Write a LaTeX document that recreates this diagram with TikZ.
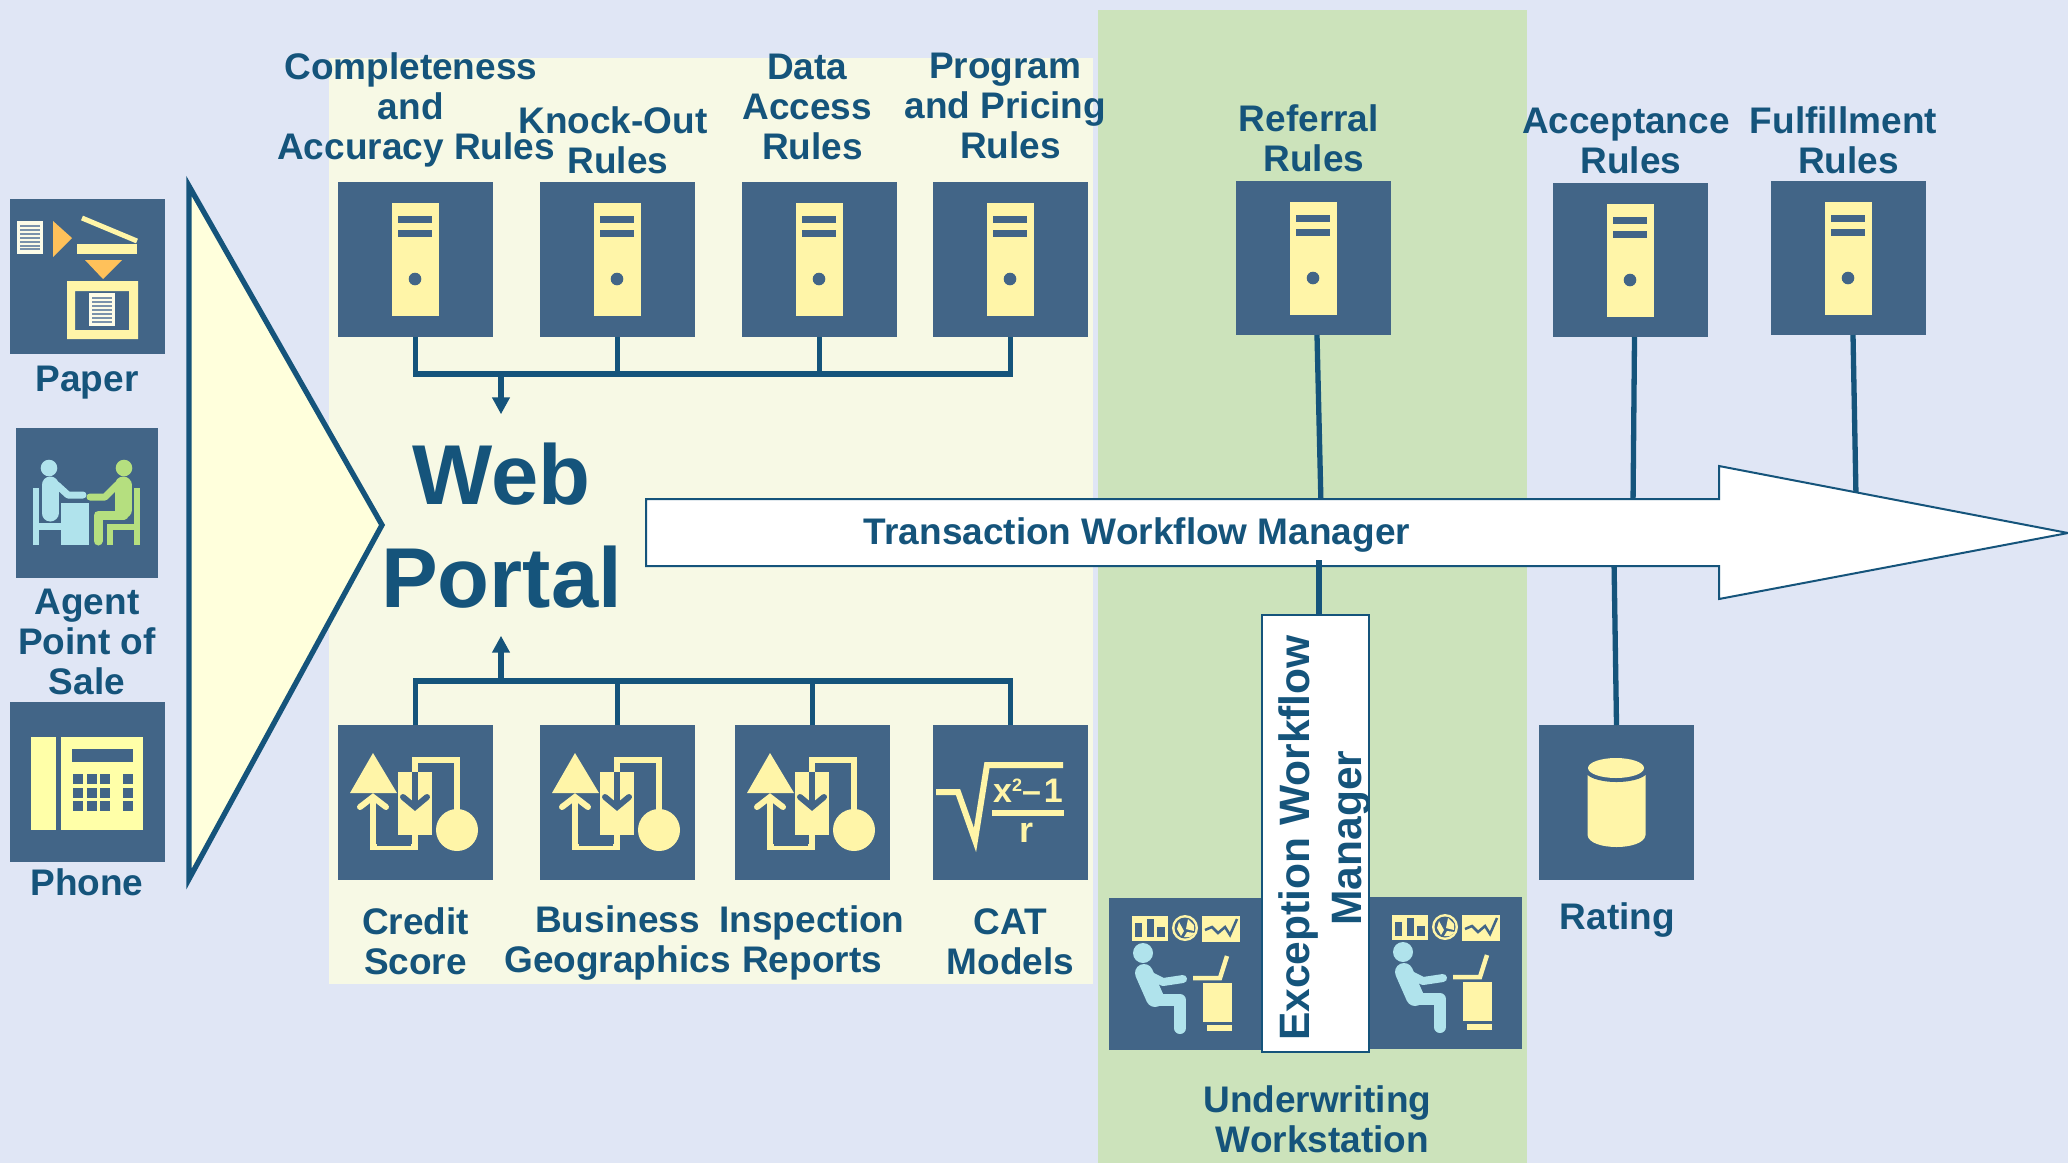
\documentclass[tikz,border=0pt]{standalone}
\usepackage{fontspec}
\setmainfont{Liberation Sans}
\usetikzlibrary{arrows.meta}
\definecolor{bgc}{HTML}{E0E6F5}
\definecolor{palec}{HTML}{F7F9E5}
\definecolor{greenc}{HTML}{CCE3BB}
\definecolor{tilec}{HTML}{426587}
\definecolor{ink}{HTML}{15547B}
\definecolor{yel}{HTML}{FFF5A8}
\definecolor{phoneyel}{HTML}{FFFFA8}
\definecolor{orangec}{HTML}{FFC15A}
\definecolor{creamc}{HTML}{FDFCE8}
\definecolor{bluec}{HTML}{B0E3EC}
\definecolor{limec}{HTML}{B5DF7F}
\definecolor{trifill}{HTML}{FFFFDC}
\tikzset{
  tile/.style={fill=tilec,draw=none,inner sep=0,outer sep=0,anchor=north west,minimum width=155pt,minimum height=155pt},
  lab/.style={font=\fontsize{37}{40}\selectfont\bfseries,text=ink,align=center,inner sep=0,outer sep=0},
  wire/.style={draw=ink,line width=5.3pt,line join=miter},
  wirearrow/.style={wire,-{Triangle[length=17pt,width=17pt]}},
  yf/.style={fill=yel,draw=none},
  yl/.style={draw=yel,line join=miter},
  dk/.style={draw=tilec,line join=miter},
  sq/.style={fill=tilec,draw=none}
}
\newcommand{\servericon}[2]{\begin{scope}[shift={(#1,#2)}]
  \fill[yf] (54,21) rectangle (101,134);
  \fill[sq] (60,34) rectangle (94,41);
  \fill[sq] (60,48) rectangle (94,55);
  \fill[sq] (77,97) circle[radius=6.3];
\end{scope}}
\newcommand{\flowicon}[2]{\begin{scope}[shift={(#1,#2)}]
  \fill[yf] (35,28) -- (59,68) -- (12,68) -- cycle;
  \fill[yf] (60,47) rectangle (94,110);
  \fill[yf] (119,105) circle[radius=21];
  \draw[yl,line width=6.5pt] (77,47) -- (77,35) -- (119,35) -- (119,88);
  \draw[yl,line width=6.5pt] (77,108) -- (77,122) -- (35,122) -- (35,72);
  \draw[yl,line width=6pt,line cap=round] (22,82) -- (35,72) -- (48,82);
  \draw[dk,line width=6.5pt] (77,47) -- (77,78);
  \draw[dk,line width=6pt,line cap=round] (65,72) -- (77,82) -- (89,72);
  \draw[dk,line width=6.5pt] (70,110) -- (70,118) -- (39,118);
\end{scope}}
\newcommand{\deskicon}[2]{\begin{scope}[shift={(#1,#2)}]
  \fill[yf] (23,18) rectangle (59,43);
  \fill[sq] (26,25) rectangle (33,39);
  \fill[sq] (38,21) rectangle (45,39);
  \fill[sq] (48,29) rectangle (56,39);
  \fill[yf] (76,30) circle[radius=13];
  \fill[sq] (76,30) circle[radius=10.5];
  \fill[yf] (77,31) -- (79,21) -- (85,27) -- (85,33) -- cycle;
  \fill[yf] (75,33) -- (70,24) -- (68,31) -- (72,38) -- cycle;
  \fill[yf] (78,34) -- (86,35) -- (81,39) -- (75,39) -- cycle;
  \fill[yf] (93,18) rectangle (131,44);
  \draw[dk,line width=2.5pt] (96,32) -- (103,29) -- (109,35) -- (116,29) -- (121,37) -- (128,21);
  \fill[bluec] (34,55) circle[radius=10];
  \draw[bluec,line width=18pt,line cap=round] (35,75) -- (46,100);
  \draw[bluec,line width=8pt,line cap=round,line join=round] (38,76) -- (54,84) -- (74,81);
  \draw[bluec,line width=12pt,line cap=round,line join=round] (46,102) -- (71,102) -- (71,130);
  \draw[yl,line width=4.5pt] (84,80) -- (111,80) -- (118,58);
  \fill[yf] (94,85) rectangle (123,124);
  \fill[yf] (98,127) rectangle (123,133);
\end{scope}}
\begin{document}
\begin{tikzpicture}[x=1pt,y=-1pt]
\useasboundingbox (0,0) rectangle (2068,1163);
\fill[bgc] (0,0) rectangle (2068,1163);
\fill[palec] (329,58) rectangle (1093,984);
\fill[greenc] (1098,10) rectangle (1527,1163);

% tiles
\node[tile] (t1) at (338,182) {};
\node[tile] (t2) at (540,182) {};
\node[tile] (t3) at (742,182) {};
\node[tile] (t4) at (933,182) {};
\node[tile,minimum height=154pt] (ref) at (1236,181) {};
\node[tile,minimum height=154pt] (acc) at (1553,183) {};
\node[tile,minimum height=154pt] (ful) at (1771,181) {};
\node[tile] (b1) at (338,725) {};
\node[tile] (b2) at (540,725) {};
\node[tile] (b3) at (735,725) {};
\node[tile] (b4) at (933,725) {};
\node[tile] (rat) at (1539,725) {};
\node[tile] (paper) at (10,199) {};
\node[tile,minimum width=142pt,minimum height=150pt] (agent) at (16,428) {};
\node[tile,minimum height=160pt] (phone) at (10,702) {};
\node[tile,minimum width=154pt,minimum height=152pt] (ws1) at (1109,898) {};
\node[tile,minimum width=154pt,minimum height=152pt] (ws2) at (1368,897) {};

% labels
\node[lab] (lt1) at (416,110) {Completeness\hphantom{i}\\and\hphantom{i}\\Accuracy Rules};
\node[lab] (lt2) at (618,140) {Knock-Out\hphantom{i}\\Rules};
\node[lab] (lt3) at (812.5,107) {Data\hphantom{i}\\Access\hphantom{i}\\Rules};
\node[lab] (lt4) at (1010.5,105.5) {Program\hphantom{i}\\and Pricing\hphantom{i}\\Rules};
\node[lab] (lref) at (1314,138.5) {Referral\hphantom{i}\\Rules};
\node[lab] (lacc) at (1631,140.5) {Acceptance\hphantom{i}\\Rules};
\node[lab] (lful) at (1848.5,140) {Fulfillment\hphantom{i}\\Rules};
\node[lab] (lpaper) at (87,382.5) {Paper};
\node[lab] (lagent) at (87,642) {Agent\\Point of\\Sale};
\node[lab] (lphone) at (87,882) {Phone};
\node[lab] (lb1) at (415.5,941) {Credit\\Score};
\node[lab] (lb2) at (617.5,943) {Business\\Geographics};
\node[lab] (lb3) at (812,943) {Inspection\\Reports};
\node[lab] (lb4) at (1010.5,942) {CAT\\Models};
\node[lab] (lrat) at (1617.5,920) {Rating};
\node[lab] (luw) at (1322.5,1119) {Underwriting\hphantom{i}\\Workstation};
\node[font=\fontsize{85}{103}\selectfont\bfseries,text=ink,align=center,inner xsep=0,inner ysep=28pt,outer sep=0] (web) at (501.5,526) {Web\\Portal};

% junctions and free ends
\coordinate (jt) at (501,374);
\coordinate (jb) at (501,681);
\coordinate (arA) at (1321,505);
\coordinate (arB) at (1319,560);
\coordinate (arC) at (1633,505);
\coordinate (arD) at (1614,560);
\coordinate (arE) at (1856,497);

% connectors
\draw[wire] (t1.south) -- (t1.south |- jt) -- (t4.south |- jt) -- (t4.south);
\draw[wire] (t2.south) -- (t2.south |- jt);
\draw[wire] (t3.south) -- (t3.south |- jt);
\draw[wirearrow,shorten >=1pt] (jt) -- (jt |- web.north);
\draw[wire] (b1.north) -- (b1.north |- jb) -- (b4.north |- jb) -- (b4.north);
\draw[wire] (b2.north) -- (b2.north |- jb);
\draw[wire] (b3.north) -- (b3.north |- jb);
\draw[wirearrow,shorten >=-1pt] (jb) -- (jb |- web.south);
\draw[wire] ([xshift=3.5pt]ref.south) -- (arA);
\draw[wire] ([xshift=4pt]acc.south) -- (arC);
\draw[wire] ([xshift=4.5pt]ful.south) -- (arE);
\draw[wire] (arD) -- (rat.north);

% funnel triangle
\draw[draw=ink,fill=trifill,line width=5.3pt,line join=miter] (189,186) -- (382,525) -- (189,879) -- cycle;

% big arrow
\draw[draw=ink,fill=white,line width=2pt,line join=miter] (646,499) -- (1719,499) -- (1719,466) -- (2068,533) -- (1719,599) -- (1719,566) -- (646,566) -- cycle;
\node[lab] (twm) at (1137,535) {Transaction Workflow Manager};

% exception box
\node[draw=ink,fill=white,line width=2.5pt,inner sep=0,outer sep=0,minimum width=107pt,minimum height=437pt,anchor=north west] (exc) at (1262,615) {};
\node[lab,font=\fontsize{42.5}{52}\selectfont\bfseries,rotate=90] (exct) at (1325,838) {Exception Workflow\\Manager};
\draw[wire] (arB) -- (exc.north -| arB);

% icons
\servericon{338}{182}\servericon{540}{182}\servericon{742}{182}\servericon{933}{182}
\servericon{1236}{181}\servericon{1553}{183}\servericon{1771}{181}
\flowicon{338}{725}\flowicon{540}{725}\flowicon{735}{725}

% rating cylinder
\begin{scope}[shift={(1539,725)}]
  \fill[yf] (48.5,50) -- (48.5,110) .. controls (50,126) and (105,126) .. (106.5,110) -- (106.5,50) -- cycle;
  \fill[sq] (77.5,46) ellipse[x radius=31,y radius=11];
  \fill[yf] (77,43) ellipse[x radius=28,y radius=10];
\end{scope}

% CAT models
\begin{scope}[shift={(933,725)}]
  \draw[yl,line width=6pt] (3,67) -- (25,67) -- (42,115) -- (54,40) -- (130,40);
  \draw[yl,line width=6pt] (59,88) -- (131,88);
  \node[text=yel,font=\fontsize{34}{34}\selectfont\bfseries,inner sep=0] (catf) at (95,66) {x\raisebox{11pt}{\fontsize{18}{18}\selectfont 2}–\kern3pt1};
  \node[text=yel,font=\fontsize{36}{36}\selectfont\bfseries,inner sep=0] (catr) at (93,108) {r};
\end{scope}

% workstations
\deskicon{1109}{898}\deskicon{1369}{897}

% paper
\begin{scope}[shift={(10,199)}]
  \fill[creamc] (7,22) rectangle (33,55);
  \foreach \yy in {27,31,35,39,43,47,50} \draw[tilec!70,line width=1.6pt] (10,\yy) -- (30,\yy);
  \fill[orangec] (43,22) -- (62,39) -- (43,58) -- cycle;
  \draw[yl,line width=5pt] (72,19) -- (127,42);
  \fill[yf] (67,45) rectangle (127,55);
  \fill[orangec] (75,61) -- (112,61) -- (93,80) -- cycle;
  \fill[yf,even odd rule] (57,82) rectangle (128,140) (65,92) rectangle (119,131);
  \fill[creamc] (79,94) rectangle (105,127);
  \foreach \yy in {99,103,107,111,115,119,123} \draw[tilec!70,line width=1.6pt] (82,\yy) -- (102,\yy);
\end{scope}

% agent
\begin{scope}[shift={(16,428)}]
  \fill[bluec] (33,40) circle[radius=8.3];
  \draw[bluec,line width=17pt,line cap=round] (34,57) -- (34,85);
  \draw[bluec,line width=7pt,line cap=round,line join=round] (41,57) -- (52,67) -- (67,67);
  \fill[bluec] (17,60) rectangle (23,117);
  \fill[bluec] (23,95) rectangle (45,102);
  \fill[bluec] (45,75) rectangle (73,117);
  \fill[limec] (108,40) circle[radius=8.3];
  \draw[limec,line width=17pt,line cap=round] (107,57) -- (107,82);
  \draw[limec,line width=7pt,line cap=round,line join=round] (101,57) -- (89,69) -- (74,69);
  \draw[limec,line width=9pt,line cap=round,line join=round] (108,87) -- (82,87) -- (82,113);
  \fill[limec] (118,60) rectangle (124,117);
  \fill[limec] (91,96) rectangle (118,102);
  \fill[limec] (91,96) rectangle (97,117);
\end{scope}

% phone
\begin{scope}[shift={(10,702)}]
  \fill[phoneyel] (21,35) rectangle (46,128);
  \fill[phoneyel] (51,35) rectangle (133,128);
  \fill[sq] (62,47) rectangle (123,60);
  \foreach \xx in {63,77,90,113} \foreach \yy in {72,86,99}
    \fill[sq] (\xx,\yy) rectangle ++(10,10);
\end{scope}
\end{tikzpicture}
\end{document}
